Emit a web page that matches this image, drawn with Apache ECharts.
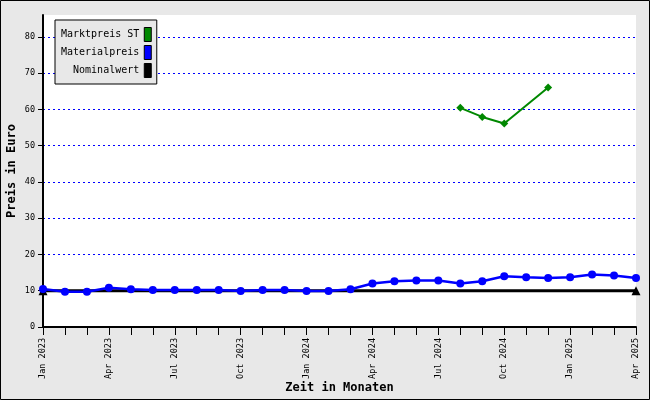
<!DOCTYPE html>
<html><head><meta charset="utf-8">
<script src="https://cdn.jsdelivr.net/npm/echarts@6/dist/echarts.min.js"></script>
<style>html,body{margin:0;padding:0;background:#e8e8e8}#c{width:650px;height:400px}</style>
</head><body><div id="c"></div>
<script>
const months = ['Jan 2023','Feb 2023','Mar 2023','Apr 2023','May 2023','Jun 2023','Jul 2023','Aug 2023','Sep 2023','Oct 2023','Nov 2023','Dec 2023',
'Jan 2024','Feb 2024','Mar 2024','Apr 2024','May 2024','Jun 2024','Jul 2024','Aug 2024','Sep 2024','Oct 2024','Nov 2024','Dec 2024',
'Jan 2025','Feb 2025','Mar 2025','Apr 2025'];
const marktpreis = [null,null,null,null,null,null,null,null,null,null,null,null,
null,null,null,null,null,null,null,60.4,57.9,56.1,null,66.0,null,null,null,null];
const materialpreis = [10.5,9.7,9.7,10.8,10.4,10.2,10.2,10.2,10.2,9.9,10.2,10.2,
9.9,9.9,10.4,12.0,12.6,12.8,12.8,12.0,12.6,14.0,13.7,13.5,13.7,14.5,14.2,13.5];
const nominalwert = [10,10,10,10,10,10,10,10,10,10,10,10,10,10,10,10,10,10,10,10,10,10,10,10,10,10,10,10];
const seriesNames = ['Marktpreis ST','Materialpreis','Nominalwert'];
const yTicks = [0,10,20,30,40,50,60,70,80];

const mono = '"DejaVu Sans Mono", monospace';
const chart = echarts.init(document.getElementById('c'));
chart.setOption({
  backgroundColor: '#e8e8e8',
  animation: false,
  graphic: [{type:'rect', shape:{x:0.5,y:0.5,width:649,height:399}, style:{fill:'none', stroke:'#000', lineWidth:1}, z:100}],
  grid: {left:43, right:14, top:15, bottom:73, show:true, backgroundColor:'#fff', borderWidth:0, outerBoundsMode:'none', containLabel:false},
  legend: {
    data: seriesNames, orient:'vertical', left:55, top:20, align:'right',
    backgroundColor:'#e8e8e8', borderColor:'#000', borderWidth:1, padding:[7,5,6,6],
    itemGap:3, itemWidth:7, itemHeight:14, icon:'rect',
    textStyle:{fontFamily:mono, fontSize:10, color:'#000'},
    itemStyle:{borderColor:'#000', borderWidth:1}
  },
  xAxis: {
    type:'category', data:months, boundaryGap:false,
    name:'Zeit in Monaten', nameLocation:'middle', nameGap:55, nameMoveOverlap:false,
    nameTextStyle:{fontFamily:mono, fontWeight:'bold', fontSize:12, color:'#000'},
    axisLine:{lineStyle:{color:'#000', width:2}},
    axisTick:{interval:0, length:8, lineStyle:{color:'#000', width:1}},
    axisLabel:{interval:2, rotate:90, fontFamily:mono, fontSize:8.5, color:'#000', margin:11},
    splitLine:{show:false}
  },
  yAxis: {
    type:'value', min:0, max:86, interval:10,
    name:'Preis in Euro', nameLocation:'middle', nameGap:25, nameRotate:90, nameMoveOverlap:false,
    nameTextStyle:{fontFamily:mono, fontWeight:'bold', fontSize:12, color:'#000'},
    axisLine:{show:true, lineStyle:{color:'#000', width:2}},
    axisTick:{show:true, length:5, lineStyle:{color:'#000'}},
    axisLabel:{fontFamily:mono, fontSize:8.5, color:'#000', margin:8, showMaxLabel:false,
      formatter: v => yTicks.indexOf(v) >= 0 ? String(v) : ''},
    splitLine:{show:true, showMaxLine:false, showMinLine:false, lineStyle:{color:'#0000ff', type:[2,3], width:1}}
  },
  series: [
    {name:'Nominalwert', type:'line', data:nominalwert, color:'#000',
     lineStyle:{width:3, color:'#000'}, symbol:'triangle',
     symbolSize:(v,p)=> (p.dataIndex===0||p.dataIndex===nominalwert.length-1)?9:0, z:2},
    {name:'Materialpreis', type:'line', data:materialpreis, color:'#0000ff',
     lineStyle:{width:2.5, color:'#0000ff'}, symbol:'circle', symbolSize:8, z:3},
    {name:'Marktpreis ST', type:'line', data:marktpreis, color:'#008800', connectNulls:true,
     lineStyle:{width:2, color:'#008800'}, symbol:'diamond', symbolSize:8, z:3}
  ]
});
</script></body></html>
